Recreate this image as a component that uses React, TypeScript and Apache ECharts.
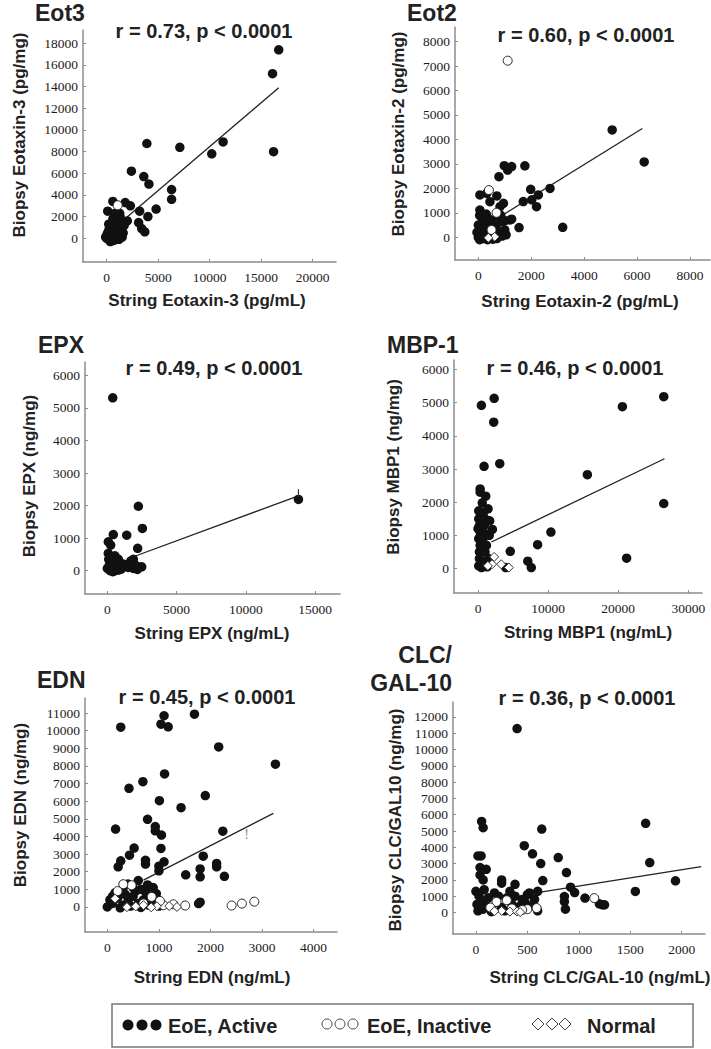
import React, { useEffect, useRef } from "react";
import * as echarts from "echarts";

// ---------- DATA ----------
// Eotaxin-3
const eot3Active: number[][] = [
  [16700, 17400], [16100, 15200], [16200, 8000], [11300, 8900], [10200, 7800], [7100, 8400],
  [3900, 8750], [2400, 6200], [3600, 5700], [4100, 5000], [6300, 4500], [6300, 3600],
  [4800, 2700], [4000, 2000], [3200, 2500], [3100, 1450], [3400, 900], [3700, 600],
  [1800, 3300], [2300, 3000], [600, 3400], [100, 2500], [800, 2300], [2000, 1600], [1300, 2000], [1260, 2300],
  [0, 0], [100, 200], [200, -100], [300, 400], [400, 100], [500, 600], [600, 300], [700, -200],
  [800, 800], [900, 200], [1000, 500], [1100, 1000], [1200, -100], [1300, 300], [1400, 700], [1500, 100],
  [250, 900], [450, 1200], [650, 1400], [850, 1100], [1050, 1500], [1250, 1700], [150, 600], [350, -300],
  [550, -200], [750, 500], [950, -100], [1150, 600], [1350, 1200], [50, 400], [-100, 100], [1600, 500],
  [1700, 1200], [600, 1800], [900, 1600], [200, 1300],
];
const eot3Inactive: number[][] = [[1070, 3050]];
const eot3Normal: number[][] = [];
const eot3Fit: number[][] = [[1500, 1575], [16700, 13900]];

// Eotaxin-2
const eot2Active: number[][] = [
  [5060, 4390], [6270, 3080], [3190, 410], [1540, 400], [2710, 2000], [1980, 1960], [2270, 1730],
  [2020, 1530], [2200, 1250], [1700, 1460], [1760, 2920], [980, 2930], [1260, 2890], [1110, 2750],
  [780, 2480], [60, 1730], [320, 1800], [700, 1690], [440, 1455], [950, 1390], [820, 1250], [60, 1116],
  [1200, 707], [1010, 680], [1260, 740],
  [0, 0], [100, 100], [200, -50], [300, 200], [400, 50], [500, 300], [600, 100], [700, -50], [800, 150],
  [900, 50], [1000, 300], [150, 400], [250, 600], [350, 800], [450, 500], [550, 700], [650, 400],
  [750, 600], [850, 900], [50, 900], [150, 750], [300, 950], [0, 500], [100, 300], [200, 200],
  [400, 350], [600, 550], [-50, 200], [50, -100], [350, -100], [550, -80], [750, 250], [950, 650],
  [1050, 100], [250, 0],
];
const eot2Inactive: number[][] = [[1110, 7220], [400, 1930], [690, 1000], [500, 300]];
const eot2Normal: number[][] = [[620, 20], [380, -20]];
const eot2Fit: number[][] = [[630, 710], [6200, 4450]];

// EPX
const epxActive: number[][] = [
  [390, 5310], [13800, 2190], [2240, 1980], [2530, 1300], [1400, 1090], [430, 1110], [70, 890],
  [240, 790], [2190, 690], [70, 530], [550, 460], [1880, 350], [1640, 220], [2480, 120], [2170, 40],
  [910, 250], [0, 70], [200, 0], [450, 120], [700, 70], [350, 230], [800, 20], [1050, 140], [550, 0],
  [150, 180], [1500, 100], [1880, 70], [600, 300], [300, 400], [1200, 200], [100, 350], [800, 350],
  [1000, 50], [400, -30], [1700, 300], [2100, 150],
];
const epxInactive: number[][] = [];
const epxNormal: number[][] = [];
const epxFit: number[][] = [[1880, 430], [13800, 2300]];
const epxMark: number[][] = [[13800, 2270], [13800, 2500]];

// MBP-1
const mbpActive: number[][] = [
  [26500, 5180], [20600, 4880], [26500, 1960], [21200, 310], [15600, 2830], [10400, 1100], [8500, 720],
  [7100, 220], [7600, 30], [4600, 520], [3950, 30], [3100, 3160], [2300, 5130], [480, 4920], [2240, 4410],
  [860, 3080], [300, 2400], [300, 2300], [1100, 2180], [600, 1980], [1430, 1800], [100, 1740], [1670, 1440],
  [2050, 1180], [1430, 1030], [1570, 130],
  [100, 1500], [200, 1300], [300, 1100], [100, 900], [500, 800], [700, 600], [1000, 500], [200, 300],
  [100, 80], [500, 30], [800, 200], [1200, 700], [900, 1300], [600, 1200], [400, 1600], [300, 700],
  [200, 500], [1500, 300], [1000, 1500], [700, 900], [0, 1200], [1300, 50], [400, 1000], [800, 1700],
  [1600, 1000],
];
const mbpInactive: number[][] = [];
const mbpNormal: number[][] = [[2300, 350], [2000, 130], [3300, 130], [4400, 30], [1400, 80]];
const mbpFit: number[][] = [[1900, 800], [26600, 3310]];

// EDN
const ednActive: number[][] = [
  [1100, 10850], [1690, 10940], [260, 10200], [1040, 10370], [1180, 10220], [2160, 9080], [3260, 8100],
  [1110, 7550], [420, 6730], [690, 7110], [1900, 6320], [1010, 6030], [1430, 5630], [780, 4970],
  [160, 4420], [930, 4560], [930, 4320], [1050, 4080], [2240, 4300], [520, 3340], [430, 2940],
  [1040, 3320], [740, 2650], [740, 2430], [260, 2620], [210, 2280], [1100, 2560], [1000, 2310],
  [1000, 2050], [1860, 2880], [2120, 2470], [2120, 2280], [1800, 2160], [1800, 1710], [1520, 1820],
  [2270, 1740], [1800, 270], [1770, 190],
  [0, 0], [100, 200], [200, 500], [300, 100], [400, 300], [500, 600], [600, 200], [700, 400],
  [800, 100], [900, 300], [1000, 50], [150, 800], [350, 700], [550, 900], [750, 800], [50, 400],
  [250, -50], [450, 50], [650, -30], [850, 600], [950, 750], [1000, 300], [100, 600], [300, 1000],
  [500, 1100], [650, 1000], [400, 1300], [780, 1250], [600, 1500], [890, 1100],
];
const ednInactive: number[][] = [
  [1090, 100], [1280, 150], [1510, 80], [2410, 80], [2610, 190], [2850, 300], [860, 570], [470, 1230],
  [1020, 340], [310, 1290], [700, 200], [200, 900],
];
const ednNormal: number[][] = [
  [1350, 0], [700, 100], [960, 40], [1200, 50], [380, -10], [150, 470], [550, 30], [850, -20],
];
const ednFit: number[][] = [[700, 1520], [3220, 5310]];
const ednMark: number[][] = [[2700, 4100]];

// CLC/GAL-10
const clcActive: number[][] = [
  [400, 11290], [55, 5590], [70, 5200], [640, 5120], [1650, 5470], [1690, 3060], [1940, 1940],
  [1550, 1290], [470, 4100], [550, 3600], [630, 3000], [800, 3370], [880, 2450], [650, 1960],
  [20, 3470], [50, 3470], [40, 2760], [100, 2650], [40, 2300], [70, 2000], [250, 2000], [250, 1800],
  [380, 1730], [920, 1550], [860, 980], [860, 670], [870, 200], [960, 1220], [1060, 880], [1200, 530],
  [1250, 470], [1230, 470],
  [0, 1300], [30, 1000], [60, 700], [100, 400], [150, 200], [200, 600], [250, 300], [300, 900],
  [350, 500], [400, 150], [450, 800], [500, 1100], [550, 400], [600, 100], [20, 100], [80, 1400],
  [120, 900], [180, 1200], [280, 100], [330, 1300], [380, 1000], [430, 400], [480, 600], [520, 1200],
  [570, 800], [600, 1300], [150, 50], [70, 200], [220, 1000], [10, 500],
];
const clcInactive: number[][] = [
  [1150, 880], [500, 200], [590, 270], [350, 250], [200, 650], [140, 300], [450, 150], [300, 750],
];
const clcNormal: number[][] = [[250, 100], [330, 50], [400, 60], [180, 80], [430, 20]];
const clcFit: number[][] = [[460, 1080], [2190, 2820]];

// Tick labels
const eot3XTicks = [0, 5000, 10000, 15000, 20000];
const eot3YTicks = [0, 2000, 4000, 6000, 8000, 10000, 12000, 14000, 16000, 18000];
const eot2XTicks = [0, 2000, 4000, 6000, 8000];
const eot2YTicks = [0, 1000, 2000, 3000, 4000, 5000, 6000, 7000, 8000];
const epxXTicks = [0, 5000, 10000, 15000];
const epxYTicks = [0, 1000, 2000, 3000, 4000, 5000, 6000];
const mbpXTicks = [0, 10000, 20000, 30000];
const mbpYTicks = [0, 1000, 2000, 3000, 4000, 5000, 6000];
const ednXTicks = [0, 1000, 2000, 3000, 4000];
const ednYTicks = [0, 1000, 2000, 3000, 4000, 5000, 6000, 7000, 8000, 9000, 10000, 11000];
const clcXTicks = [0, 500, 1000, 1500, 2000];
const clcYTicks = [0, 1000, 2000, 3000, 4000, 5000, 6000, 7000, 8000, 9000, 10000, 11000, 12000];

// Texts
const panelTitles = ["Eot3", "Eot2", "EPX", "MBP-1", "EDN", "CLC/", "GAL-10"];
const statTexts = [
  "r = 0.73, p < 0.0001",
  "r = 0.60, p < 0.0001",
  "r = 0.49, p < 0.0001",
  "r = 0.46, p < 0.0001",
  "r = 0.45, p < 0.0001",
  "r = 0.36, p < 0.0001",
];
const yNames = [
  "Biopsy Eotaxin-3 (pg/mg)",
  "Biopsy Eotaxin-2 (pg/mg)",
  "Biopsy EPX (ng/mg)",
  "Biopsy MBP1 (ng/mg)",
  "Biopsy EDN (ng/mg)",
  "Biopsy CLC/GAL10 (ng/mg)",
];
const xNames = [
  "String Eotaxin-3 (pg/mL)",
  "String Eotaxin-2 (pg/mL)",
  "String EPX (ng/mL)",
  "String MBP1 (ng/mL)",
  "String EDN (ng/mL)",
  "String CLC/GAL-10 (ng/mL)",
];
const legendLabels = ["EoE, Active", "EoE, Inactive", "Normal"];

// ---------- LAYOUT ----------
const panels = [
  { active: eot3Active, inactive: eot3Inactive, normal: eot3Normal, fit: eot3Fit, xt: eot3XTicks, yt: eot3YTicks,
    grid: { left: 83, top: 30, width: 253, height: 232 }, xr: [-2300, 22260], yr: [-2190, 19230],
    title: [35, 13], stat: [204, 31], yName: [19, 135], xName: [207, 300] },
  { active: eot2Active, inactive: eot2Inactive, normal: eot2Normal, fit: eot2Fit, xt: eot2XTicks, yt: eot2YTicks,
    grid: { left: 455, top: 27, width: 255, height: 233 }, xr: [-881, 8757], yr: [-928, 8597],
    title: [407, 13], stat: [586, 35], yName: [398, 134], xName: [580, 301] },
  { active: epxActive, inactive: epxInactive, normal: epxNormal, fit: epxFit, xt: epxXTicks, yt: epxYTicks,
    grid: { left: 85, top: 362, width: 255, height: 232 }, xr: [-1613, 16800], yr: [-714, 6409],
    title: [38, 345], stat: [214, 368], yName: [29, 476], xName: [212, 633] },
  { active: mbpActive, inactive: mbpInactive, normal: mbpNormal, fit: mbpFit, xt: mbpXTicks, yt: mbpYTicks,
    grid: { left: 454, top: 360, width: 248, height: 233 }, xr: [-3429, 31957], yr: [-738, 6286],
    title: [387, 345], stat: [575, 368], yName: [393, 467], xName: [588, 632] },
  { active: ednActive, inactive: ednInactive, normal: ednNormal, fit: ednFit, xt: ednXTicks, yt: ednYTicks,
    grid: { left: 85, top: 698, width: 252, height: 234 }, xr: [-433, 4454], yr: [-1422, 11857],
    title: [37, 680], stat: [207, 697], yName: [20, 805], xName: [212, 977] },
  { active: clcActive, inactive: clcInactive, normal: clcNormal, fit: clcFit, xt: clcXTicks, yt: clcYTicks,
    grid: { left: 453, top: 702, width: 252, height: 232 }, xr: [-223, 2227], yr: [-1322, 12918],
    title: [452, 655], stat: [587, 698], yName: [395, 820], xName: [600, 977] },
];

const AXIS_COLOR = "#8c8c8c";
const SANS = "'Liberation Sans', Arial, sans-serif";
const SERIF = "Liberation Serif";
const DIAMOND = "path://M0,-1L1,0L0,1L-1,0Z";

function buildOption() {
  const grid: any[] = [];
  const xAxis: any[] = [];
  const yAxis: any[] = [];
  const series: any[] = [];
  const graphic: any[] = [];
  const titleStyle = (text: string, align: string) => ({
    text, font: `bold 23px ${SANS}`, fill: "#222", textAlign: align, textVerticalAlign: "middle",
  });

  panels.forEach((p, i) => {
    grid.push({ ...p.grid, containLabel: false });
    const common = (ticks: number[]) => ({
      type: "value",
      gridIndex: i,
      splitLine: { show: false },
      axisLine: { show: true, onZero: false, lineStyle: { color: AXIS_COLOR, width: 1.5 } },
      axisTick: { show: true, inside: true, length: 3, customValues: ticks, lineStyle: { color: AXIS_COLOR } },
      axisLabel: {
        customValues: ticks, color: "#1a1a1a", fontFamily: SERIF, fontSize: 13.5,
        formatter: (v: number) => String(v),
      },
    });
    const xa: any = common(p.xt);
    xa.min = p.xr[0];
    xa.max = p.xr[1];
    xa.axisLabel.margin = 8;
    xAxis.push(xa);
    const ya: any = common(p.yt);
    ya.min = p.yr[0];
    ya.max = p.yr[1];
    ya.axisLabel.margin = 5;
    yAxis.push(ya);

    series.push({
      type: "line", xAxisIndex: i, yAxisIndex: i, data: p.fit, showSymbol: false, silent: true,
      lineStyle: { color: "#222", width: 1.3 }, z: 1,
    });
    series.push({
      type: "scatter", xAxisIndex: i, yAxisIndex: i, data: p.active, symbol: "circle", symbolSize: 9.5,
      itemStyle: { color: "#111", opacity: 1 }, z: 2,
    });
    series.push({
      type: "scatter", xAxisIndex: i, yAxisIndex: i, data: p.inactive, symbol: "circle", symbolSize: 9,
      itemStyle: { color: "#fff", borderColor: "#222", borderWidth: 1, opacity: 1 }, z: 3,
    });
    series.push({
      type: "scatter", xAxisIndex: i, yAxisIndex: i, data: p.normal, symbol: DIAMOND, symbolSize: 9,
      itemStyle: { color: "#fff", borderColor: "#333", borderWidth: 1, opacity: 1 }, z: 3,
    });

    if (i === 5) {
      graphic.push({ type: "text", x: p.title[0], y: p.title[1], style: titleStyle(panelTitles[5], "right") });
      graphic.push({ type: "text", x: p.title[0], y: p.title[1] + 28, style: titleStyle(panelTitles[6], "right") });
    } else {
      graphic.push({ type: "text", x: p.title[0], y: p.title[1], style: titleStyle(panelTitles[i], "left") });
    }
    graphic.push({ type: "text", x: p.stat[0], y: p.stat[1], style: { text: statTexts[i], font: `bold 20px ${SANS}`, fill: "#222", textAlign: "center", textVerticalAlign: "middle" } });
    graphic.push({ type: "text", x: p.yName[0], y: p.yName[1], rotation: Math.PI / 2, style: { text: yNames[i], font: `bold 17px ${SANS}`, fill: "#222", textAlign: "center", textVerticalAlign: "middle" } });
    graphic.push({ type: "text", x: p.xName[0], y: p.xName[1], style: { text: xNames[i], font: `bold 17px ${SANS}`, fill: "#222", textAlign: "center", textVerticalAlign: "middle" } });
  });

  // artefacts in the original figure
  series.push({
    type: "line", xAxisIndex: 2, yAxisIndex: 2, data: epxMark, showSymbol: false, silent: true,
    lineStyle: { color: "#333", width: 1.2 },
  });
  series.push({
    type: "scatter", xAxisIndex: 4, yAxisIndex: 4, data: ednMark, symbolSize: 0, silent: true,
    label: { show: true, formatter: "!", position: "inside", color: "#666", fontFamily: SERIF, fontSize: 14 },
  });

  // Legend box
  const ly = 1025;
  graphic.push({ type: "rect", shape: { x: 112, y: 1004, width: 581, height: 43 }, style: { fill: "#fff", stroke: "#777", lineWidth: 1.5 } });
  [128, 142, 156].forEach((cx) => graphic.push({ type: "circle", shape: { cx, cy: ly, r: 5.5 }, style: { fill: "#111" } }));
  [327, 340, 353].forEach((cx) => graphic.push({ type: "circle", shape: { cx, cy: ly - 1, r: 5 }, style: { fill: "#fff", stroke: "#444", lineWidth: 1 } }));
  [538, 552, 565].forEach((cx) => graphic.push({ type: "polygon", shape: { points: [[cx, ly - 7], [cx + 6, ly - 1], [cx, ly + 5], [cx - 6, ly - 1]] }, style: { fill: "#fff", stroke: "#444", lineWidth: 1 } }));
  [[168, legendLabels[0]], [367, legendLabels[1]], [587, legendLabels[2]]].forEach(([x, t]) =>
    graphic.push({ type: "text", x, y: ly + 1, style: { text: t, font: `bold 20px ${SANS}`, fill: "#222", textAlign: "left", textVerticalAlign: "middle" } })
  );

  return {
    animation: false,
    backgroundColor: "#fff",
    grid, xAxis, yAxis, series, graphic,
  };
}

export default function App() {
  const ref = useRef<HTMLDivElement>(null);
  useEffect(() => {
    if (!ref.current) return;
    const chart = echarts.init(ref.current, null, { renderer: "svg" });
    chart.setOption(buildOption() as any);
    return () => chart.dispose();
  }, []);
  return (
    <div
      ref={ref}
      style={{ position: "absolute", left: 0, top: 0, width: 711, height: 1049, background: "#fff" }}
    />
  );
}
